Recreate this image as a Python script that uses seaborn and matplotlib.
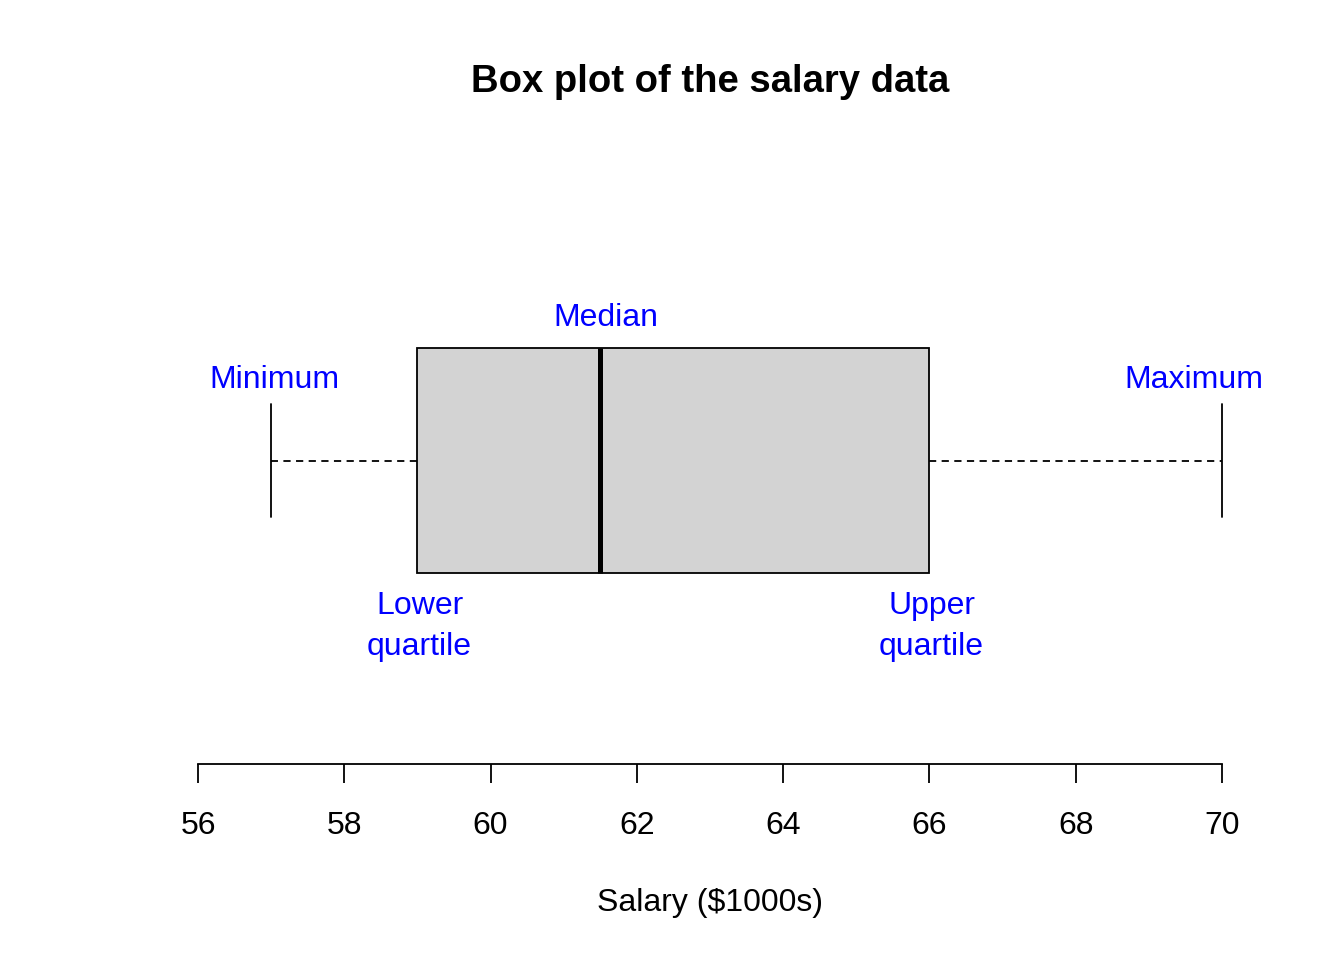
import matplotlib
matplotlib.use('Agg')
import matplotlib.pyplot as plt
import seaborn as sns

# five-number summary
salary = [57, 59, 61.5, 66, 70]
ticks = [56, 58, 60, 62, 64, 66, 68, 70]
labels = ['Minimum', 'Lower\nquartile', 'Median', 'Upper\nquartile', 'Maximum']
label_x = [57.05, 59.03, 61.58, 66.03, 69.62]
label_y = [-0.288, 0.59, -0.508, 0.59, -0.288]

sns.set_style('white')
plt.rcParams['font.family'] = ['Liberation Sans', 'DejaVu Sans']
plt.rcParams['text.color'] = 'black'
plt.rcParams['axes.labelcolor'] = 'black'
plt.rcParams['xtick.color'] = 'black'

W, H = 1344, 960
fig = plt.figure(figsize=(W / 100, H / 100), dpi=100)

# axes in pixel terms: x 56..70 maps to 198..1222, box centre at y=460.5
ppu = (1222 - 198) / 14.0
left_px, right_px = 150, 1270
top_px, bot_px = 250, 764
ax = fig.add_axes([left_px / W, 1 - bot_px / H, (right_px - left_px) / W, (bot_px - top_px) / H])

sns.boxplot(x=salary, ax=ax, color='#D3D3D3', saturation=1, width=0.8,
            linecolor='black', linewidth=1.3, whis=1.5,
            whiskerprops={'linestyle': (0, (4, 3))},
            medianprops={'linewidth': 3.6, 'color': 'black'})

ax.set_xlim(56 - (198 - left_px) / ppu, 70 + (right_px - 1222) / ppu)
yppu = 225 / 0.8
ax.set_ylim((bot_px - 460.5) / yppu, -(460.5 - top_px) / yppu)

for s in ['left', 'right', 'top']:
    ax.spines[s].set_visible(False)
ax.spines['bottom'].set_bounds(56, 70)
ax.spines['bottom'].set_linewidth(1.3)
ax.spines['bottom'].set_color('black')
ax.set_yticks([])
ax.set_xticks(ticks)
ax.set_xticklabels([str(t) for t in ticks])
ax.tick_params(axis='x', bottom=True, length=13.5, width=1.3, color='black',
               labelcolor='black', labelsize=23, pad=20, direction='out')

for t, x, y in zip(labels, label_x, label_y):
    ax.text(x, y, t, color='blue', fontsize=23, ha='center', va='center',
            linespacing=1.45, clip_on=False)

ax.set_xlabel('Salary ($1000s)', fontsize=23, labelpad=34, color='black')
fig.text(710 / W, 1 - 82 / H, 'Box plot of the salary data', fontsize=27.5,
         fontweight='bold', ha='center', va='center', color='black')

fig.savefig('out.png', dpi=100, facecolor='white')
